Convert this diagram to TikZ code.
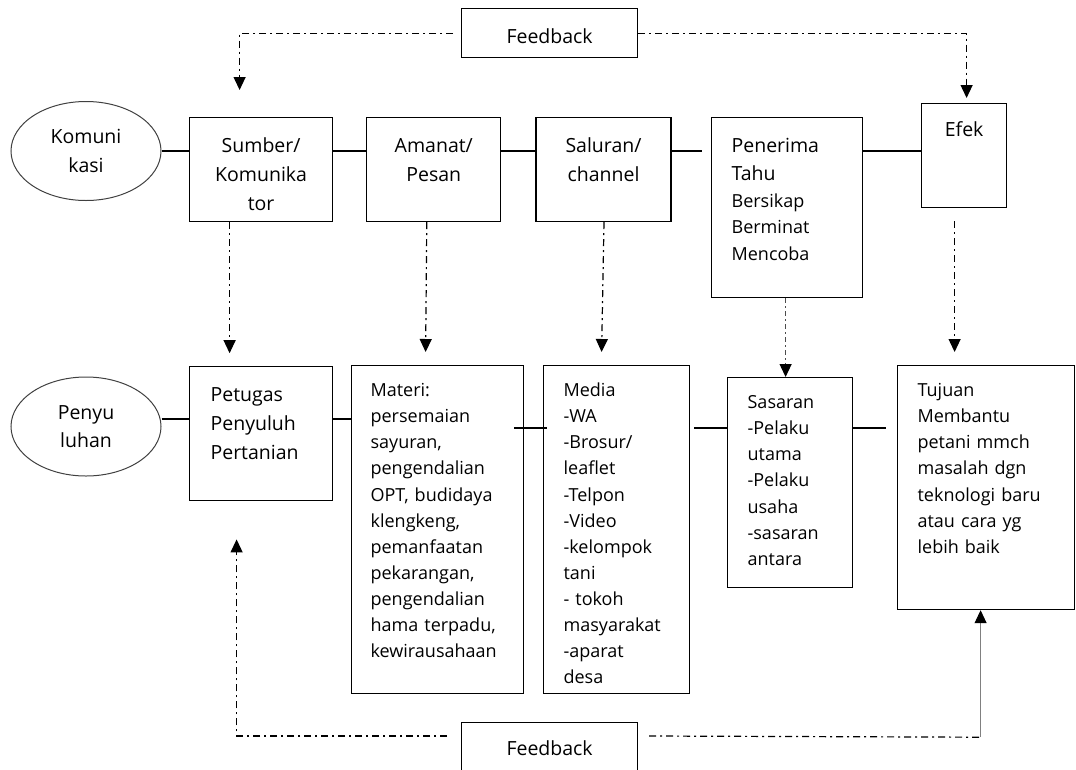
\documentclass[tikz,border=0pt]{standalone}
\usepackage{fontspec}
\setmainfont{Open Sans}
\usetikzlibrary{arrows.meta,positioning,calc,shapes.geometric}

\newcommand{\lgfont}{\fontsize{19.5}{28.7}\selectfont}
\newcommand{\smfont}{\fontsize{18}{26.1}\selectfont}

\begin{document}
\begin{tikzpicture}
  [x=1pt,y=-1pt,
  box/.style={rectangle,draw,line width=1.2pt,anchor=north west,inner ysep=0pt},
  topbox/.style={box,align=center,inner xsep=4pt,font=\lgfont,text height=35pt},
  listbox/.style={box,align=left,inner xsep=20pt,font=\smfont,text height=31pt},
  oval/.style={ellipse,draw=black!75,line width=1pt,minimum width=150pt,minimum height=99pt,inner sep=0pt,align=center,font=\lgfont},
  link/.style={line width=1.2pt},
  fb/.style={line width=1.2pt,dash pattern=on 7pt off 4pt on 2pt off 4pt},
  fbarrow/.style={fb,-{Triangle[width=12pt,length=13pt]}}]
\clip (0,0) rectangle (1076,769);

% feedback at the top
\node[box,font=\lgfont,align=center,inner xsep=4pt,text width=168pt,text height=35pt,text depth=14pt] (fbtop) at (461,8) {Feedback};

% komunikasi row
\node[oval] (kom) at (86,151) {Komuni\\kasi};
\node[topbox,text width=135pt,text depth=69pt] (sumber) at (189,117) {Sumber/\\Komunika\\tor};
\node[topbox,text width=126pt,text depth=69pt] (amanat) [right=33pt of sumber] {Amanat/\\Pesan};
\node[topbox,text width=127pt,text depth=69pt] (saluran) [right=34pt of amanat] {Saluran/\\channel};
\node[listbox,font=\fontsize{19.5}{26.5}\selectfont,text width=111pt,text height=35pt,text depth=145pt] (penerima) at (711,117) {Penerima\\[1.5pt]Tahu\\{\smfont Bersikap}\\{\smfont Berminat}\\{\smfont Mencoba}};
\node[topbox,text width=77pt,text height=33pt,text depth=71pt] (efek) at (921,103) {Efek};

\draw[link] (kom.east) -- (kom.east -| sumber.west);
\draw[link] (sumber.east |- kom.east) -- (amanat.west |- kom.east);
\draw[link] (amanat.east |- kom.east) -- (saluran.west |- kom.east);
\draw[link] (saluran.east |- kom.east) -- ($(penerima.west |- kom.east)+(-9,0)$);
\draw[link] (penerima.east |- kom.east) -- (efek.west |- kom.east);

% penyuluhan row
\node[oval] (peny) at (86,426.5) {Penyu\\luhan};
\node[listbox,font=\lgfont,inner xsep=21pt,text width=101pt,text height=35pt,text depth=99pt] (petugas) [below=144pt of sumber] {Petugas\\Penyuluh\\Pertanian};
\node[listbox,inner xsep=19pt,text width=134pt,text depth=297pt] (materi) at (351,365) {Materi:\\persemaian\\sayuran,\\pengendalian\\OPT, budidaya\\klengkeng,\\pemanfaatan\\pekarangan,\\pengendalian\\hama terpadu,\\kewirausahaan};
\node[listbox,text width=106pt,text depth=297pt] (media) at (543,365) {Media\\-WA\\-Brosur/\\leaflet\\-Telpon\\-Video\\-kelompok\\tani\\- tokoh\\masyarakat\\-aparat\\desa};
\node[listbox,text width=85pt,text depth=179pt] (sasaran) at (727,377) {Sasaran\\-Pelaku\\utama\\-Pelaku\\usaha\\-sasaran\\antara};
\node[listbox,text width=137pt,text depth=213pt] (tujuan) at (897,365) {Tujuan\\Membantu\\petani mmch\\masalah dgn\\teknologi baru\\atau cara yg\\lebih baik};

\coordinate (upper) at (0,419);
\coordinate (lower) at (0,428);
\draw[link] (peny.east |- upper) -- (petugas.west |- upper);
\draw[link] (petugas.east |- upper) -- (materi.west |- upper);
\draw[link] ($(materi.east |- lower)+(-10,0)$) -- ($(media.west |- lower)+(4,0)$);
\draw[link] ($(media.east |- lower)+(4,0)$) -- (sasaran.west |- lower);
\draw[link] (sasaran.east |- lower) -- ($(tujuan.west |- lower)+(-11,0)$);

% feedback at the bottom
\node[box,font=\lgfont,align=center,inner xsep=4pt,text width=168pt,text height=33pt,text depth=16pt] (fbbot) at (461,722) {Feedback};

% dashed flow
\draw[fbarrow] ([xshift=-8pt]fbtop.west) -| ($(sumber.north)+(-21.5,-27)$);
\draw[fbarrow] (fbtop.east) -| ($(efek.north)+(2.5,-5)$);
\draw[fbarrow] ($(sumber.south)+(-31.5,0)$) -- ($(petugas.north)+(-31.5,-13)$);
\draw[fbarrow] ($(amanat.south)+(-7,0)$) -- ($(materi.north)+(-12,-13)$);
\draw[fbarrow] ($(saluran.south)+(0.5,0)$) -- ($(media.north)+(-15,-13)$);
\draw[fb,black!70,dash pattern=on 5pt off 3pt on 2pt off 3pt,-{Triangle[black,width=12pt,length=13pt]}] ($(penerima.south)+(-1.5,0)$) -- ($(sasaran.north)+(-4.5,0)$);
\draw[fbarrow] ($(efek.south)+(-9.5,13)$) -- ($(tujuan.north)+(-31.5,-13)$);
\draw[fbarrow] ($(fbbot.north west)+(-14,14)$) -| ($(petugas.south)+(-24.5,38)$);
\draw[fb] ($(fbbot.north east)+(11,14)$) -- ($(tujuan.south)+(-5.5,127)$) coordinate (fbturn);
\draw[line width=1pt,black!50,-{Triangle[black,width=12pt,length=13pt]}] (fbturn) -- ($(tujuan.south)+(-5.5,0)$);

\end{tikzpicture}
\end{document}
